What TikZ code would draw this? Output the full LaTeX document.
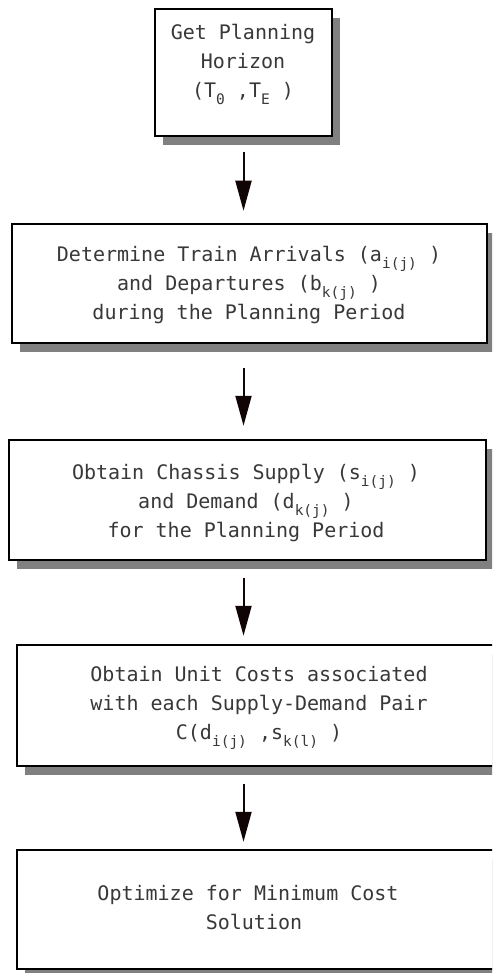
\documentclass[tikz,border=0pt]{standalone}
\usepackage{fontspec}
\setmonofont{DejaVu Sans Mono}
\usetikzlibrary{arrows.meta,shadows,calc}
\definecolor{shadowgray}{HTML}{808080}
\definecolor{inkline}{HTML}{100404}
% lowered, smaller index text
\newcommand\lowsub[1]{\raisebox{-7pt}{\fontsize{14.5pt}{14.5pt}\selectfont #1}}

\begin{document}
\begin{tikzpicture}[x=1pt,y=-1pt,
  stepbox/.style={rectangle, draw=black, line width=2.5pt, fill=white, inner sep=0pt,
     drop shadow={shadow xshift=8pt, shadow yshift=-9pt, fill=shadowgray, opacity=1}},
  steptext/.style={align=center, inner sep=0pt, anchor=north, text=black!78,
     font=\ttfamily\fontsize{20pt}{29pt}\selectfont},
  flow/.style={draw=inkline, line width=2pt, -{Triangle[length=30pt,width=16pt]}}]

\useasboundingbox (0,0) rectangle (492,973);
\clip (0,0) rectangle (492,973);

% process boxes
\node[stepbox, minimum width=177pt, minimum height=127pt] (b1) at (243.5,72.5) {};
\node[stepbox, minimum width=475pt, minimum height=119pt] (b2) at (249.5,283.5) {};
\node[stepbox, minimum width=477pt, minimum height=120pt] (b3) at (247.5,500) {};
\node[stepbox, minimum width=484pt, minimum height=121pt] (b4) at (259,705.5) {};
\node[stepbox, minimum width=478pt, minimum height=119pt] (b5) at (256,909.5) {};

% box texts
\node[steptext] (t1) at (243,24) {Get Planning\\Horizon\\(T\lowsub{0} ,T\lowsub{E} )};
\node[steptext] (t2) at (249,246) {Determine Train Arrivals (a\lowsub{i(j)} )\\and Departures (b\lowsub{k(j)} )\\during the Planning Period};
\node[steptext] (t3) at (246,464) {Obtain Chassis Supply (s\lowsub{i(j)} )\\and Demand (d\lowsub{k(j)} )\\for the Planning Period};
\node[steptext] (t4) at (259,666) {Obtain Unit Costs associated\\with each Supply-Demand Pair\\C(d\lowsub{i(j)} ,s\lowsub{k(l)} )};
\node[steptext] (t5) at (254,885) {Optimize for Minimum Cost\hspace*{12pt}\\Solution};

% flow arrows
\draw[flow] ($(b1.south)+(0,15)$) -- ($(b2.north -| b1.south)+(0,-12)$);
\draw[flow] ($(b2.south -| b1.south)+(0,24)$) -- ($(b3.north -| b1.south)+(0,-13)$);
\draw[flow] ($(b3.south -| b1.south)+(0,17)$) -- ($(b4.north -| b1.south)+(0,-8)$);
\draw[flow] ($(b4.south -| b1.south)+(0,17)$) -- ($(b5.north -| b1.south)+(0,-7)$);
\end{tikzpicture}
\end{document}
